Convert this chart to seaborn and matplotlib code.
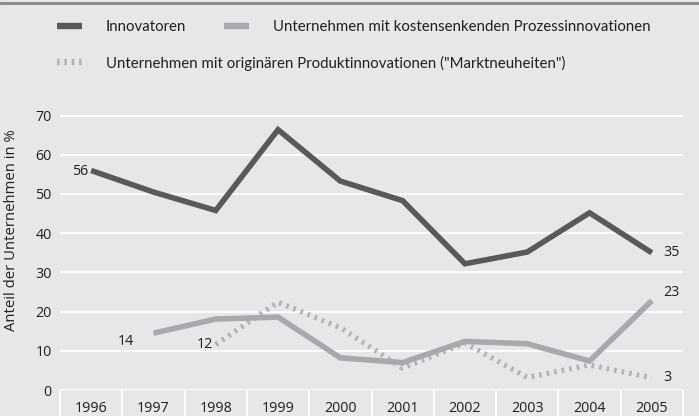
import matplotlib
matplotlib.use("Agg")
import matplotlib.pyplot as plt
from matplotlib.lines import Line2D
import seaborn as sns
import pandas as pd

years = [1996, 1997, 1998, 1999, 2000, 2001, 2002, 2003, 2004, 2005]
innovatoren = [56, 50.5, 45.8, 66.4, 53.3, 48.3, 32.2, 35.2, 45.2, 35]
prozess = [None, 14.5, 18.1, 18.6, 8.2, 7.0, 12.4, 11.8, 7.4, 22.8]
markt = [None, None, 11.6, 22.4, 15.9, 5.6, 12.0, 3.2, 6.4, 3.1]

name_inno = "Innovatoren"
name_proz = "Unternehmen mit kostensenkenden Prozessinnovationen"
name_markt = "Unternehmen mit originären Produktinnovationen (\"Marktneuheiten\")"
ylabel = "Anteil der Unternehmen in %"

bg = "#e6e7e8"
c_dark = "#58595b"
c_light = "#a7a9ac"
c_dot = "#b1b3b6"
txt = "#231f20"

sns.set_style("white")
plt.rcParams["font.family"] = ["Open Sans", "DejaVu Sans"]

df = pd.DataFrame({"Jahr": years, name_inno: innovatoren,
                   name_proz: prozess, name_markt: markt})

fig = plt.figure(figsize=(6.99, 4.16), dpi=100, facecolor=bg)
ax = fig.add_axes([60 / 699, 26 / 416, 623 / 699, 294 / 416])
ax.set_facecolor(bg)

line_kw = dict(solid_capstyle="butt", solid_joinstyle="miter",
               dash_capstyle="butt")
sns.lineplot(data=df, x="Jahr", y=name_markt, ax=ax, color=c_dot,
             lw=3.8, linestyle=(0, (0.5, 0.95)), **line_kw)
sns.lineplot(data=df, x="Jahr", y=name_proz, ax=ax, color=c_light, lw=4.0, **line_kw)
sns.lineplot(data=df, x="Jahr", y=name_inno, ax=ax, color=c_dark, lw=4.0, **line_kw)

ax.set_xlim(1995.5, 2005.5)
ax.set_ylim(0, 75)
ax.set_yticks(range(0, 80, 10))
ax.set_xticks(years)
ax.set_xticks([y + 0.5 for y in [1995] + years], minor=True)
ax.grid(axis="y", color="white", lw=1.3)
ax.set_axisbelow(True)
for s in ax.spines.values():
    s.set_visible(False)
ax.tick_params(axis="x", which="major", bottom=True, length=0, pad=8,
               labelsize=10.3, labelcolor=txt)
ax.tick_params(axis="x", which="minor", bottom=True, length=19, width=1.3,
               color="white", direction="out")
ax.tick_params(axis="y", length=0, pad=6, labelsize=10.3, labelcolor=txt)
ax.set_xlabel("")
ax.set_ylabel(ylabel, fontsize=10.7, color=txt)
ax.yaxis.set_label_coords(-0.066, 0.544)

# value labels
kw = dict(textcoords="offset points", fontsize=10.3, color=txt, va="center")
ax.annotate("56", (years[0], innovatoren[0]), xytext=(-2, -1), ha="right", **kw)
ax.annotate("35", (years[-1], innovatoren[-1]), xytext=(8, 0), ha="left", **kw)
ax.annotate("14", (years[1], prozess[1]), xytext=(-14, -6), ha="right", **kw)
ax.annotate("12", (years[2], markt[2]), xytext=(-2, 0), ha="right", **kw)
ax.annotate("23", (years[-1], prozess[-1]), xytext=(8, 6), ha="left", **kw)
ax.annotate("3", (years[-1], markt[-1]), xytext=(8, 0), ha="left", **kw)

# legend
h_inno = Line2D([], [], color=c_dark, lw=4.6, solid_capstyle="butt")
h_proz = Line2D([], [], color=c_light, lw=4.6, solid_capstyle="butt")
h_markt = Line2D([], [], color=c_dot, lw=4.6, linestyle=(0, (0.4, 0.75)),
                 dash_capstyle="butt")
lkw = dict(frameon=False, handlelength=1.67, handletextpad=1.6,
           columnspacing=2.5, borderaxespad=0, borderpad=0,
           prop={"family": ["Lato", "DejaVu Sans"], "size": 10.8})
leg1 = fig.legend([h_inno, h_proz], [name_inno, name_proz], ncol=2,
                  loc="center left", bbox_to_anchor=(57 / 699, 1 - 27 / 416), **lkw)
leg2 = fig.legend([h_markt], [name_markt], loc="center left",
                  bbox_to_anchor=(57 / 699, 1 - 63 / 416), **lkw)
for leg in (leg1, leg2):
    for t in leg.get_texts():
        t.set_color(txt)

fig.add_artist(Line2D([0, 1], [1 - 3 / 416, 1 - 3 / 416], color="#8c8d8f", lw=2.2,
                      transform=fig.transFigure))

fig.savefig("out.png", dpi=100, facecolor=bg)
